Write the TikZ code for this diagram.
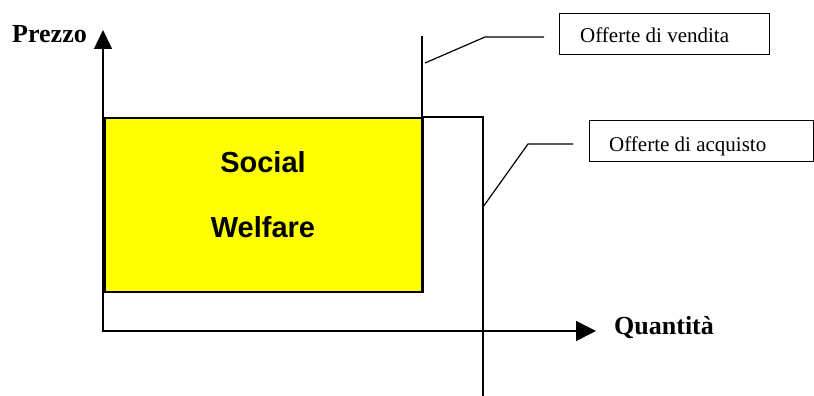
\documentclass[tikz,border=0pt]{standalone}
\usepackage{fontspec}
\setmainfont{Liberation Serif}
\newfontfamily\arialfont{Liberation Sans}
\usetikzlibrary{arrows.meta}
\definecolor{swyellow}{RGB}{255,255,0}
\begin{document}
\begin{tikzpicture}[x=1pt,y=-1pt,
  axisline/.style={line width=1.5pt},
  yaxtip/.style={-{Triangle[width=18pt,length=19pt]}},
  xaxtip/.style={-{Triangle[width=20pt,length=20pt]}},
  curve/.style={line width=1.2pt},
  callout/.style={line width=1.2pt},
  labelbox/.style={draw,line width=1.2pt,minimum height=41pt,inner sep=0pt,anchor=north west},
  axlabel/.style={font=\fontsize{26}{28}\selectfont\bfseries,inner sep=0pt,anchor=base west},
  boxtext/.style={font=\fontsize{21}{24}\selectfont,inner sep=0pt,anchor=base west},
  swtext/.style={font=\arialfont\fontsize{29}{32}\selectfont\bfseries,inner sep=0pt,anchor=base},
  swarea/.style={draw,fill=swyellow,line width=1.5pt,inner sep=0pt,minimum width=318pt,minimum height=174pt,anchor=north west}]
\useasboundingbox (0,0) rectangle (814,396);

% coordinates
\coordinate (o) at (103,332);
\coordinate (ytop) at (103,30);
\coordinate (xend) at (596,331);
\coordinate (xstart) at (103,331);

% welfare area
\node[swarea] (sw) at (104,117) {};
\node[swtext] (social) at (263,172) {Social};
\node[swtext] (welfare) at (263,237) {Welfare};

% axes
\draw[axisline,yaxtip] (o) -- (ytop);
\draw[axisline,xaxtip] (xstart) -- (xend);
\node[axlabel] (prezzo) at (12,43) {Prezzo};
\node[axlabel] (quant) at (614,334) {Quantità};

% supply curve
\coordinate (s1) at (422,36);
\coordinate (s2) at (422,291);
\draw[curve] (s1) -- (s2);

% demand curve
\coordinate (d1) at (422,117);
\coordinate (d2) at (483,117);
\coordinate (d3) at (483,396);
\draw[curve] (d1) -- (d2) -- (d3);

% label boxes
\node[labelbox,minimum width=210pt] (vbox) at (559,13) {};
\node[boxtext] (vtext) at (580,43) {Offerte di vendita};
\node[labelbox,minimum width=224pt] (abox) at (588.5,120) {};
\node[boxtext] (atext) at (609,151) {Offerte di acquisto};

% callouts
\coordinate (vc0) at (425,63);
\coordinate (vc1) at (485,37);
\coordinate (vc2) at (544,37);
\draw[callout] (vc0) -- (vc1) -- (vc2);
\coordinate (ac0) at (483,207);
\coordinate (ac1) at (528,144);
\coordinate (ac2) at (573,144);
\draw[callout] (ac0) -- (ac1) -- (ac2);
\end{tikzpicture}
\end{document}
